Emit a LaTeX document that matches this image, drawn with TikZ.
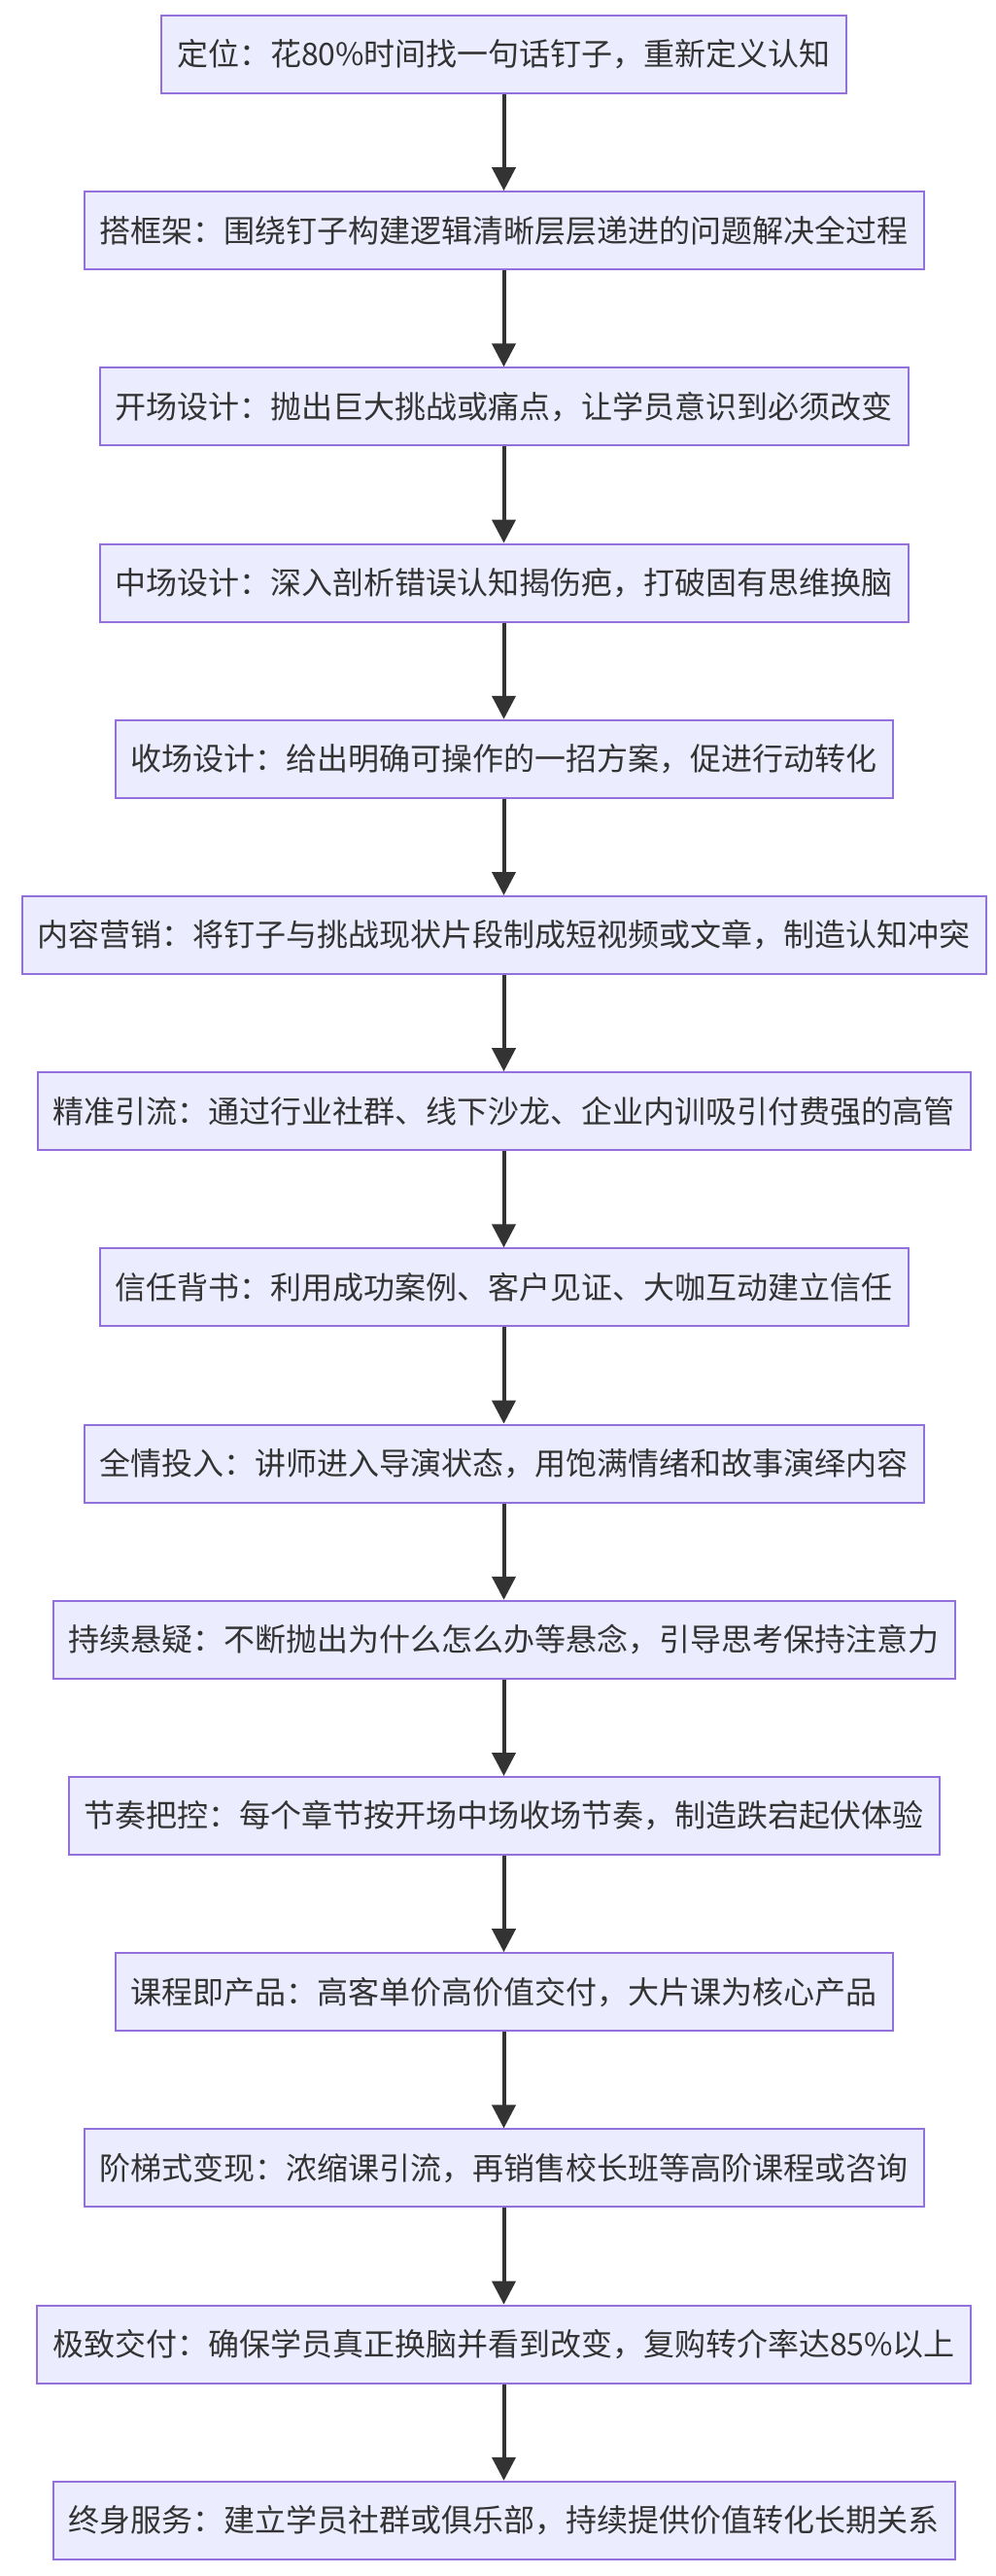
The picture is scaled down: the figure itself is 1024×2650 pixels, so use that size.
\documentclass[tikz,border=0pt]{standalone}
\usepackage{fontspec}
\setmainfont{Noto Sans CJK SC}
\usetikzlibrary{positioning,arrows.meta}
\definecolor{boxfill}{HTML}{ECECFF}
\definecolor{boxline}{HTML}{9370DB}
\definecolor{ink}{HTML}{333333}
\begin{document}
\begin{tikzpicture}%
	[x=0.5pt,
	y=-0.5pt,
	node distance=49.6pt,
	stepbox/.style={draw=boxline, fill=boxfill, line width=1pt, text=ink,
		minimum height=40pt, inner xsep=8pt, inner ysep=0pt,
		font=\fontsize{16pt}{19pt}\selectfont},
	flow/.style={draw=ink, line width=2pt, -{Triangle[length=12pt,width=12pt]}}]
%
\useasboundingbox (0,0) rectangle (1024,2650);
%%
%% Drawing the steps
%%
\node[stepbox] (position) at (518.5,56) {定位：花80\%时间找一句话钉子，重新定义认知};
\node[stepbox, below=of position] (frame) {搭框架：围绕钉子构建逻辑清晰层层递进的问题解决全过程};
\node[stepbox, below=of frame] (opening) {开场设计：抛出巨大挑战或痛点，让学员意识到必须改变};
\node[stepbox, below=of opening] (middle) {中场设计：深入剖析错误认知揭伤疤，打破固有思维换脑};
\node[stepbox, below=of middle] (closing) {收场设计：给出明确可操作的一招方案，促进行动转化};
\node[stepbox, below=of closing] (content) {内容营销：将钉子与挑战现状片段制成短视频或文章，制造认知冲突};
\node[stepbox, below=of content] (traffic) {精准引流：通过行业社群、线下沙龙、企业内训吸引付费强的高管};
\node[stepbox, below=of traffic] (trust) {信任背书：利用成功案例、客户见证、大咖互动建立信任};
\node[stepbox, below=of trust] (devotion) {全情投入：讲师进入导演状态，用饱满情绪和故事演绎内容};
\node[stepbox, below=of devotion] (suspense) {持续悬疑：不断抛出为什么怎么办等悬念，引导思考保持注意力};
\node[stepbox, below=of suspense] (rhythm) {节奏把控：每个章节按开场中场收场节奏，制造跌宕起伏体验};
\node[stepbox, below=of rhythm] (product) {课程即产品：高客单价高价值交付，大片课为核心产品};
\node[stepbox, below=of product] (ladder) {阶梯式变现：浓缩课引流，再销售校长班等高阶课程或咨询};
\node[stepbox, below=of ladder] (delivery) {极致交付：确保学员真正换脑并看到改变，复购转介率达85\%以上};
\node[stepbox, below=of delivery] (service) {终身服务：建立学员社群或俱乐部，持续提供价值转化长期关系};
%%
%% Drawing the arrows
%%
\draw[flow] (position) -- (frame);
\draw[flow] (frame) -- (opening);
\draw[flow] (opening) -- (middle);
\draw[flow] (middle) -- (closing);
\draw[flow] (closing) -- (content);
\draw[flow] (content) -- (traffic);
\draw[flow] (traffic) -- (trust);
\draw[flow] (trust) -- (devotion);
\draw[flow] (devotion) -- (suspense);
\draw[flow] (suspense) -- (rhythm);
\draw[flow] (rhythm) -- (product);
\draw[flow] (product) -- (ladder);
\draw[flow] (ladder) -- (delivery);
\draw[flow] (delivery) -- (service);

\end{tikzpicture}
\end{document}
